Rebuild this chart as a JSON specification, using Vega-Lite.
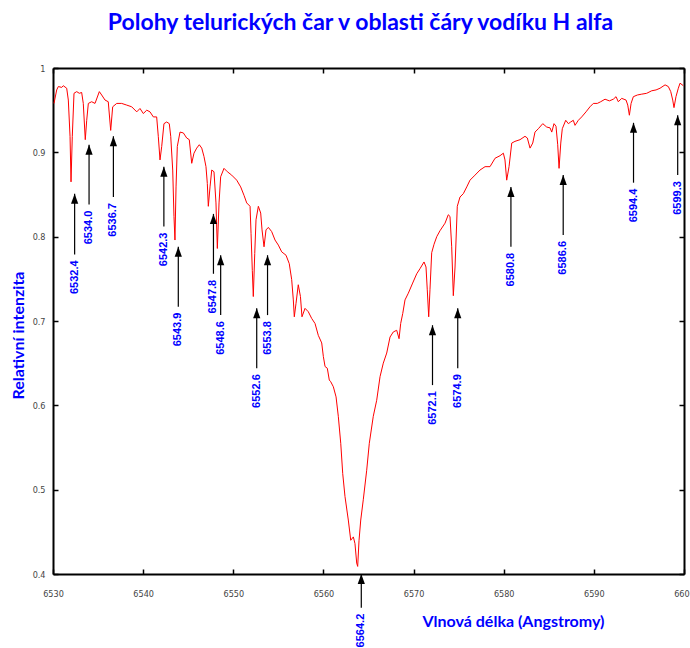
{
  "$schema": "https://vega.github.io/schema/vega-lite/v6.json",
  "width": 631,
  "height": 506,
  "autosize": {"type": "none"},
  "padding": {"left": 53, "top": 68, "right": 6, "bottom": 74},
  "background": "#ffffff",
  "config": {"view": {"stroke": null}},
  "title": {
    "text": "Polohy telurických čar v oblasti čáry vodíku H alfa",
    "font": "Lato",
    "fontSize": 23,
    "fontWeight": "bold",
    "color": "#0000ff",
    "anchor": "middle",
    "dx": -8,
    "offset": 29
  },
  "datasets": {
    "spectrum": [
      {"lambda": 6530.11, "intensity": 0.958}, {"lambda": 6530.41, "intensity": 0.974}, {"lambda": 6530.59, "intensity": 0.978},
      {"lambda": 6530.97, "intensity": 0.977}, {"lambda": 6531.14, "intensity": 0.979}, {"lambda": 6531.52, "intensity": 0.976},
      {"lambda": 6531.70, "intensity": 0.962}, {"lambda": 6531.89, "intensity": 0.919}, {"lambda": 6532.00, "intensity": 0.865},
      {"lambda": 6532.14, "intensity": 0.919}, {"lambda": 6532.33, "intensity": 0.970}, {"lambda": 6532.63, "intensity": 0.972},
      {"lambda": 6532.92, "intensity": 0.970}, {"lambda": 6533.18, "intensity": 0.971}, {"lambda": 6533.36, "intensity": 0.958},
      {"lambda": 6533.58, "intensity": 0.915}, {"lambda": 6533.74, "intensity": 0.938}, {"lambda": 6533.92, "intensity": 0.958},
      {"lambda": 6534.29, "intensity": 0.960}, {"lambda": 6534.66, "intensity": 0.958}, {"lambda": 6535.14, "intensity": 0.972},
      {"lambda": 6535.40, "intensity": 0.968}, {"lambda": 6535.77, "intensity": 0.962}, {"lambda": 6536.13, "intensity": 0.960},
      {"lambda": 6536.40, "intensity": 0.926}, {"lambda": 6536.62, "intensity": 0.954}, {"lambda": 6537.07, "intensity": 0.958},
      {"lambda": 6537.62, "intensity": 0.958}, {"lambda": 6538.18, "intensity": 0.956}, {"lambda": 6538.73, "intensity": 0.954},
      {"lambda": 6539.29, "intensity": 0.948}, {"lambda": 6539.65, "intensity": 0.952}, {"lambda": 6540.02, "intensity": 0.946},
      {"lambda": 6540.40, "intensity": 0.950}, {"lambda": 6540.76, "intensity": 0.948}, {"lambda": 6541.13, "intensity": 0.942},
      {"lambda": 6541.50, "intensity": 0.942}, {"lambda": 6541.68, "intensity": 0.919}, {"lambda": 6541.87, "intensity": 0.891},
      {"lambda": 6542.06, "intensity": 0.907}, {"lambda": 6542.31, "intensity": 0.934}, {"lambda": 6542.61, "intensity": 0.936},
      {"lambda": 6542.90, "intensity": 0.934}, {"lambda": 6543.06, "intensity": 0.919}, {"lambda": 6543.28, "intensity": 0.879},
      {"lambda": 6543.42, "intensity": 0.824}, {"lambda": 6543.53, "intensity": 0.796}, {"lambda": 6543.65, "intensity": 0.859},
      {"lambda": 6543.79, "intensity": 0.907}, {"lambda": 6544.09, "intensity": 0.924}, {"lambda": 6544.46, "intensity": 0.923},
      {"lambda": 6544.83, "intensity": 0.917}, {"lambda": 6545.12, "intensity": 0.915}, {"lambda": 6545.39, "intensity": 0.887},
      {"lambda": 6545.64, "intensity": 0.899}, {"lambda": 6545.94, "intensity": 0.905}, {"lambda": 6546.23, "intensity": 0.909},
      {"lambda": 6546.50, "intensity": 0.905}, {"lambda": 6546.75, "intensity": 0.895}, {"lambda": 6546.97, "intensity": 0.883},
      {"lambda": 6547.12, "intensity": 0.863}, {"lambda": 6547.23, "intensity": 0.836}, {"lambda": 6547.42, "intensity": 0.859},
      {"lambda": 6547.61, "intensity": 0.879}, {"lambda": 6547.86, "intensity": 0.877}, {"lambda": 6548.08, "intensity": 0.840},
      {"lambda": 6548.23, "intensity": 0.786}, {"lambda": 6548.42, "intensity": 0.840}, {"lambda": 6548.60, "intensity": 0.871},
      {"lambda": 6548.97, "intensity": 0.881}, {"lambda": 6549.34, "intensity": 0.877}, {"lambda": 6549.82, "intensity": 0.873},
      {"lambda": 6550.38, "intensity": 0.867}, {"lambda": 6550.82, "intensity": 0.859}, {"lambda": 6551.19, "intensity": 0.849},
      {"lambda": 6551.49, "intensity": 0.840}, {"lambda": 6551.86, "intensity": 0.836}, {"lambda": 6551.97, "intensity": 0.804},
      {"lambda": 6552.11, "intensity": 0.760}, {"lambda": 6552.22, "intensity": 0.729}, {"lambda": 6552.38, "intensity": 0.780},
      {"lambda": 6552.52, "intensity": 0.820}, {"lambda": 6552.78, "intensity": 0.836}, {"lambda": 6553.04, "intensity": 0.828},
      {"lambda": 6553.19, "intensity": 0.808}, {"lambda": 6553.41, "intensity": 0.788}, {"lambda": 6553.63, "intensity": 0.808},
      {"lambda": 6553.89, "intensity": 0.811}, {"lambda": 6554.26, "intensity": 0.806}, {"lambda": 6554.63, "intensity": 0.796},
      {"lambda": 6555.00, "intensity": 0.790}, {"lambda": 6555.37, "intensity": 0.782}, {"lambda": 6555.85, "intensity": 0.778},
      {"lambda": 6556.21, "intensity": 0.768}, {"lambda": 6556.48, "intensity": 0.749}, {"lambda": 6556.66, "intensity": 0.725},
      {"lambda": 6556.77, "intensity": 0.705}, {"lambda": 6556.96, "intensity": 0.721}, {"lambda": 6557.21, "intensity": 0.743},
      {"lambda": 6557.45, "intensity": 0.729}, {"lambda": 6557.62, "intensity": 0.705}, {"lambda": 6557.96, "intensity": 0.715},
      {"lambda": 6558.32, "intensity": 0.711}, {"lambda": 6558.70, "intensity": 0.703}, {"lambda": 6559.07, "intensity": 0.697},
      {"lambda": 6559.43, "intensity": 0.683}, {"lambda": 6559.81, "intensity": 0.674}, {"lambda": 6559.99, "intensity": 0.658},
      {"lambda": 6560.18, "intensity": 0.646}, {"lambda": 6560.43, "intensity": 0.644}, {"lambda": 6560.65, "intensity": 0.630},
      {"lambda": 6560.81, "intensity": 0.628}, {"lambda": 6561.10, "intensity": 0.622}, {"lambda": 6561.40, "intensity": 0.610},
      {"lambda": 6561.65, "intensity": 0.587}, {"lambda": 6561.92, "intensity": 0.555}, {"lambda": 6562.14, "intensity": 0.519},
      {"lambda": 6562.39, "intensity": 0.492}, {"lambda": 6562.76, "intensity": 0.464}, {"lambda": 6563.03, "intensity": 0.440},
      {"lambda": 6563.32, "intensity": 0.444}, {"lambda": 6563.50, "intensity": 0.436}, {"lambda": 6563.69, "intensity": 0.413},
      {"lambda": 6563.80, "intensity": 0.409}, {"lambda": 6563.95, "intensity": 0.440}, {"lambda": 6564.14, "intensity": 0.464},
      {"lambda": 6564.42, "intensity": 0.488}, {"lambda": 6564.80, "intensity": 0.523}, {"lambda": 6565.09, "intensity": 0.555},
      {"lambda": 6565.53, "intensity": 0.587}, {"lambda": 6565.91, "intensity": 0.606}, {"lambda": 6566.28, "intensity": 0.634},
      {"lambda": 6566.64, "intensity": 0.650}, {"lambda": 6567.02, "intensity": 0.662}, {"lambda": 6567.39, "intensity": 0.681},
      {"lambda": 6567.75, "intensity": 0.687}, {"lambda": 6568.13, "intensity": 0.689}, {"lambda": 6568.39, "intensity": 0.679},
      {"lambda": 6568.57, "intensity": 0.697}, {"lambda": 6568.80, "intensity": 0.709}, {"lambda": 6569.05, "intensity": 0.725},
      {"lambda": 6569.42, "intensity": 0.733}, {"lambda": 6569.90, "intensity": 0.745}, {"lambda": 6570.35, "intensity": 0.756},
      {"lambda": 6570.71, "intensity": 0.762}, {"lambda": 6571.16, "intensity": 0.770}, {"lambda": 6571.38, "intensity": 0.764},
      {"lambda": 6571.52, "intensity": 0.737}, {"lambda": 6571.68, "intensity": 0.705}, {"lambda": 6571.82, "intensity": 0.737},
      {"lambda": 6572.01, "intensity": 0.781}, {"lambda": 6572.27, "intensity": 0.791}, {"lambda": 6572.57, "intensity": 0.800},
      {"lambda": 6572.93, "intensity": 0.807}, {"lambda": 6573.49, "intensity": 0.816}, {"lambda": 6573.85, "intensity": 0.826},
      {"lambda": 6574.04, "intensity": 0.824}, {"lambda": 6574.23, "intensity": 0.788}, {"lambda": 6574.41, "intensity": 0.730},
      {"lambda": 6574.60, "intensity": 0.764}, {"lambda": 6574.85, "intensity": 0.836}, {"lambda": 6575.15, "intensity": 0.847},
      {"lambda": 6575.52, "intensity": 0.851}, {"lambda": 6575.90, "intensity": 0.859}, {"lambda": 6576.26, "intensity": 0.867},
      {"lambda": 6576.82, "intensity": 0.873}, {"lambda": 6577.37, "intensity": 0.879}, {"lambda": 6577.93, "intensity": 0.883},
      {"lambda": 6578.48, "intensity": 0.883}, {"lambda": 6579.04, "intensity": 0.893}, {"lambda": 6579.59, "intensity": 0.896},
      {"lambda": 6579.96, "intensity": 0.899}, {"lambda": 6580.14, "intensity": 0.891}, {"lambda": 6580.33, "intensity": 0.867},
      {"lambda": 6580.59, "intensity": 0.883}, {"lambda": 6580.89, "intensity": 0.911}, {"lambda": 6581.25, "intensity": 0.913},
      {"lambda": 6581.81, "intensity": 0.915}, {"lambda": 6582.36, "intensity": 0.919}, {"lambda": 6582.62, "intensity": 0.917},
      {"lambda": 6582.92, "intensity": 0.905}, {"lambda": 6583.22, "intensity": 0.911}, {"lambda": 6583.47, "intensity": 0.924},
      {"lambda": 6583.84, "intensity": 0.928}, {"lambda": 6584.33, "intensity": 0.934}, {"lambda": 6584.77, "intensity": 0.930},
      {"lambda": 6585.14, "intensity": 0.929}, {"lambda": 6585.33, "intensity": 0.924}, {"lambda": 6585.58, "intensity": 0.934},
      {"lambda": 6585.80, "intensity": 0.931}, {"lambda": 6585.99, "intensity": 0.909}, {"lambda": 6586.14, "intensity": 0.881},
      {"lambda": 6586.33, "intensity": 0.911}, {"lambda": 6586.50, "intensity": 0.928}, {"lambda": 6586.88, "intensity": 0.938},
      {"lambda": 6587.17, "intensity": 0.934}, {"lambda": 6587.43, "intensity": 0.936}, {"lambda": 6587.72, "intensity": 0.938},
      {"lambda": 6587.91, "intensity": 0.932}, {"lambda": 6588.28, "intensity": 0.938}, {"lambda": 6588.65, "intensity": 0.942},
      {"lambda": 6589.13, "intensity": 0.948}, {"lambda": 6589.57, "intensity": 0.954}, {"lambda": 6589.94, "intensity": 0.958},
      {"lambda": 6590.38, "intensity": 0.958}, {"lambda": 6590.76, "intensity": 0.960}, {"lambda": 6591.24, "intensity": 0.963},
      {"lambda": 6591.72, "intensity": 0.961}, {"lambda": 6592.16, "intensity": 0.963}, {"lambda": 6592.46, "intensity": 0.966},
      {"lambda": 6592.71, "intensity": 0.960}, {"lambda": 6593.09, "intensity": 0.964}, {"lambda": 6593.57, "intensity": 0.962},
      {"lambda": 6593.76, "intensity": 0.956}, {"lambda": 6593.94, "intensity": 0.944}, {"lambda": 6594.13, "intensity": 0.958},
      {"lambda": 6594.38, "intensity": 0.966}, {"lambda": 6594.83, "intensity": 0.968}, {"lambda": 6595.31, "intensity": 0.969},
      {"lambda": 6595.86, "intensity": 0.970}, {"lambda": 6596.42, "intensity": 0.973}, {"lambda": 6596.90, "intensity": 0.974},
      {"lambda": 6597.34, "intensity": 0.976}, {"lambda": 6597.90, "intensity": 0.980}, {"lambda": 6598.26, "intensity": 0.978},
      {"lambda": 6598.53, "intensity": 0.972}, {"lambda": 6598.75, "intensity": 0.962}, {"lambda": 6598.89, "intensity": 0.953},
      {"lambda": 6599.11, "intensity": 0.966}, {"lambda": 6599.37, "intensity": 0.976}, {"lambda": 6599.56, "intensity": 0.982},
      {"lambda": 6599.93, "intensity": 0.979}
    ],
    "telluric": [
      {"lambda": 6532.4, "label": "6532.4", "tip": 0.851, "tail": 0.779},
      {"lambda": 6534.0, "label": "6534.0", "tip": 0.909, "tail": 0.838},
      {"lambda": 6536.7, "label": "6536.7", "tip": 0.919, "tail": 0.847},
      {"lambda": 6542.3, "label": "6542.3", "tip": 0.883, "tail": 0.812},
      {"lambda": 6543.9, "label": "6543.9", "tip": 0.788, "tail": 0.717},
      {"lambda": 6547.8, "label": "6547.8", "tip": 0.827, "tail": 0.756},
      {"lambda": 6548.6, "label": "6548.6", "tip": 0.778, "tail": 0.707},
      {"lambda": 6552.6, "label": "6552.6", "tip": 0.715, "tail": 0.644},
      {"lambda": 6553.8, "label": "6553.8", "tip": 0.778, "tail": 0.707},
      {"lambda": 6564.2, "label": "6564.2", "tip": 0.400, "tail": 0.360},
      {"lambda": 6572.1, "label": "6572.1", "tip": 0.695, "tail": 0.624},
      {"lambda": 6574.9, "label": "6574.9", "tip": 0.715, "tail": 0.644},
      {"lambda": 6580.8, "label": "6580.8", "tip": 0.859, "tail": 0.788},
      {"lambda": 6586.6, "label": "6586.6", "tip": 0.873, "tail": 0.802},
      {"lambda": 6594.4, "label": "6594.4", "tip": 0.935, "tail": 0.864},
      {"lambda": 6599.3, "label": "6599.3", "tip": 0.944, "tail": 0.873}
    ]
  },
  "layer": [
    {
      "data": {"name": "spectrum"},
      "mark": {"type": "line", "color": "#ff0000", "strokeWidth": 1, "interpolate": "linear"},
      "encoding": {
        "x": {
          "field": "lambda", "type": "quantitative",
          "scale": {"domain": [6530, 6600], "nice": false, "zero": false},
          "axis": {
            "orient": "bottom",
            "values": [6530, 6540, 6550, 6560, 6570, 6580, 6590, 6600],
            "format": "d",
            "grid": false,
            "domainColor": "#000000", "domainWidth": 2,
            "tickColor": "#000000", "tickWidth": 1.5, "tickSize": -5,
            "labelFont": "DejaVu Sans Condensed", "labelFontSize": 9, "labelColor": "#444444",
            "labelPadding": 20, "labelFlush": false, "labelOverlap": false,
            "title": "Vlnová délka (Angstromy)",
            "titleFont": "Lato", "titleFontSize": 16, "titleFontWeight": "bold", "titleColor": "#0000ff",
            "titleX": 460, "titleY": 47, "titleAlign": "center", "titleBaseline": "middle"
          }
        },
        "y": {
          "field": "intensity", "type": "quantitative",
          "scale": {"domain": [0.4, 1], "nice": false, "zero": false},
          "axis": {
            "orient": "left",
            "values": [0.4, 0.5, 0.6, 0.7, 0.8, 0.9, 1],
            "format": ".1~f",
            "grid": false,
            "domainColor": "#000000", "domainWidth": 2,
            "tickColor": "#000000", "tickWidth": 1.5, "tickSize": -5,
            "labelFont": "DejaVu Sans Condensed", "labelFontSize": 9, "labelColor": "#444444",
            "labelPadding": 13, "labelOverlap": false,
            "title": "Relativní intenzita",
            "titleFont": "Lato", "titleFontSize": 16, "titleFontWeight": "bold", "titleColor": "#0000ff",
            "titleX": -35, "titleY": 267, "titleAngle": 270, "titleAlign": "center", "titleBaseline": "middle"
          }
        }
      }
    },
    {
      "data": {"name": "telluric"},
      "mark": {"type": "rule", "color": "#000000", "strokeWidth": 1.2},
      "encoding": {
        "x": {"field": "lambda", "type": "quantitative", "axis": null},
        "y": {"field": "tail", "type": "quantitative", "axis": null},
        "y2": {"field": "tip"}
      }
    },
    {
      "data": {"name": "telluric"},
      "mark": {
        "type": "point",
        "shape": "M0,0L-0.36,1L0.36,1Z",
        "size": 400,
        "filled": true,
        "color": "#000000",
        "opacity": 1,
        "strokeWidth": 0
      },
      "encoding": {
        "x": {"field": "lambda", "type": "quantitative", "axis": null},
        "y": {"field": "tip", "type": "quantitative", "axis": null}
      }
    },
    {
      "data": {"name": "telluric"},
      "mark": {
        "type": "text",
        "angle": 270,
        "align": "right",
        "baseline": "middle",
        "dx": -6,
        "font": "Liberation Sans",
        "fontSize": 11,
        "fontWeight": "bold",
        "color": "#0000ff"
      },
      "encoding": {
        "x": {"field": "lambda", "type": "quantitative", "axis": null},
        "y": {"field": "tail", "type": "quantitative", "axis": null},
        "text": {"field": "label"}
      }
    },
    {
      "data": {"name": "spectrum"},
      "mark": {"type": "point", "opacity": 0},
      "encoding": {
        "x": {
          "field": "lambda", "type": "quantitative",
          "axis": {
            "orient": "top",
            "values": [6530, 6540, 6550, 6560, 6570, 6580, 6590, 6600],
            "labels": false, "grid": false, "title": null,
            "domainColor": "#000000", "domainWidth": 2,
            "tickColor": "#000000", "tickWidth": 1.5, "tickSize": -5
          }
        },
        "y": {
          "field": "intensity", "type": "quantitative",
          "axis": {
            "orient": "right",
            "values": [0.4, 0.5, 0.6, 0.7, 0.8, 0.9, 1],
            "labels": false, "grid": false, "title": null,
            "domainColor": "#000000", "domainWidth": 2,
            "tickColor": "#000000", "tickWidth": 1.5, "tickSize": -5
          }
        }
      }
    }
  ],
  "resolve": {"axis": {"x": "independent", "y": "independent"}}
}
